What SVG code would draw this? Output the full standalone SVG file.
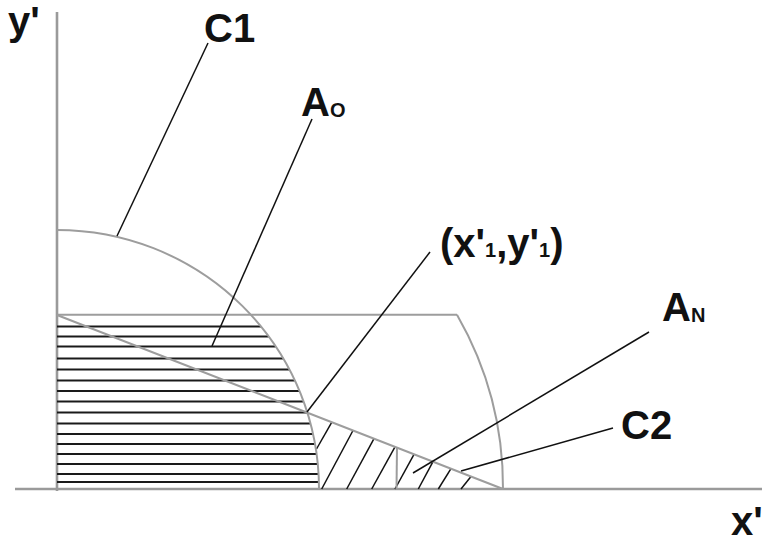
<svg xmlns="http://www.w3.org/2000/svg" width="762" height="544" viewBox="0 0 762 544">
<style>
.axis{stroke:#9a9a9a;stroke-width:2.6;fill:none}
.curve{stroke:#9d9d9d;stroke-width:2;fill:none}
.hh{stroke:#1a1a1a;stroke-width:2}
.dh{stroke:#111;stroke-width:1.5}
.lead{stroke:#111;stroke-width:1.5;fill:none}
.lbl{font-family:"Liberation Sans",Arial,sans-serif;font-weight:bold;font-size:40px;fill:#111}
.sub{font-size:20px}
</style>
<rect width="762" height="544" fill="#fff"/>
<g id="axes">
<line class="axis" x1="57" y1="12" x2="57" y2="491"/>
<line class="axis" x1="15" y1="489" x2="762" y2="489"/>
</g>
<g id="hatch-AO">
<line class="hh" x1="57" y1="326.5" x2="261" y2="326.5"/>
<line class="hh" x1="57" y1="336.5" x2="268.8" y2="336.5"/>
<line class="hh" x1="57" y1="346.5" x2="275.8" y2="346.5"/>
<line class="hh" x1="57" y1="358.5" x2="283.3" y2="358.5"/>
<line class="hh" x1="57" y1="369.5" x2="289.4" y2="369.5"/>
<line class="hh" x1="57" y1="380.5" x2="294.9" y2="380.5"/>
<line class="hh" x1="57" y1="391" x2="299.5" y2="391"/>
<line class="hh" x1="57" y1="401.5" x2="303.6" y2="401.5"/>
<line class="hh" x1="57" y1="412.5" x2="307.3" y2="412.5"/>
<line class="hh" x1="57" y1="423.5" x2="310.5" y2="423.5"/>
<line class="hh" x1="57" y1="434" x2="313" y2="434"/>
<line class="hh" x1="57" y1="444" x2="315" y2="444"/>
<line class="hh" x1="57" y1="454" x2="316.6" y2="454"/>
<line class="hh" x1="57" y1="464" x2="317.8" y2="464"/>
<line class="hh" x1="57" y1="474" x2="318.6" y2="474"/>
<line class="hh" x1="57" y1="482" x2="318.9" y2="482"/>
</g>
<g id="hatch-AN">
<line class="dh" x1="331.7" y1="422.3" x2="316.5" y2="449"/>
<line class="dh" x1="353" y1="430.5" x2="321.7" y2="489"/>
<line class="dh" x1="374" y1="438.7" x2="346.7" y2="489"/>
<line class="dh" x1="395" y1="446.9" x2="371.7" y2="489"/>
<line class="dh" x1="414" y1="454.3" x2="395" y2="489"/>
<line class="dh" x1="433" y1="461.7" x2="418.3" y2="489"/>
<line class="dh" x1="451" y1="468.7" x2="438.3" y2="489"/>
<line class="dh" x1="471" y1="476.5" x2="461" y2="489"/>
</g>
<g id="curves">
<path id="C1" class="curve" d="M57,230 A262,259 0 0 1 319,489"/>
<line id="top-line" class="curve" x1="57" y1="314.7" x2="457" y2="314.7"/>
<path id="C2" class="curve" d="M457,314.7 A347,347 0 0 1 503,489"/>
<line id="diagonal" class="curve" x1="57" y1="315" x2="503" y2="489"/>
<line id="inner-mark" class="curve" x1="397" y1="447.6" x2="396.5" y2="489"/>
</g>
<g id="connectors">
<line class="lead" x1="208" y1="43" x2="117" y2="236"/>
<line class="lead" x1="312" y1="119" x2="212" y2="346"/>
<line class="lead" x1="430" y1="252" x2="307" y2="412"/>
<line class="lead" x1="649" y1="332" x2="413" y2="473"/>
<line class="lead" x1="613" y1="428" x2="461" y2="471"/>
</g>
<g id="labels">
<text class="lbl" x="8" y="35">y'</text>
<text class="lbl" x="731" y="535">x'</text>
<text class="lbl" x="204" y="41.5">C1</text>
<text class="lbl" x="301" y="116">A<tspan class="sub" dy="1">O</tspan></text>
<text class="lbl" x="440" y="257">(x'<tspan class="sub">1</tspan>,y'<tspan class="sub">1</tspan>)</text>
<text class="lbl" x="662" y="321">A<tspan class="sub" dy="1">N</tspan></text>
<text class="lbl" x="621" y="439">C2</text>
</g>
</svg>
